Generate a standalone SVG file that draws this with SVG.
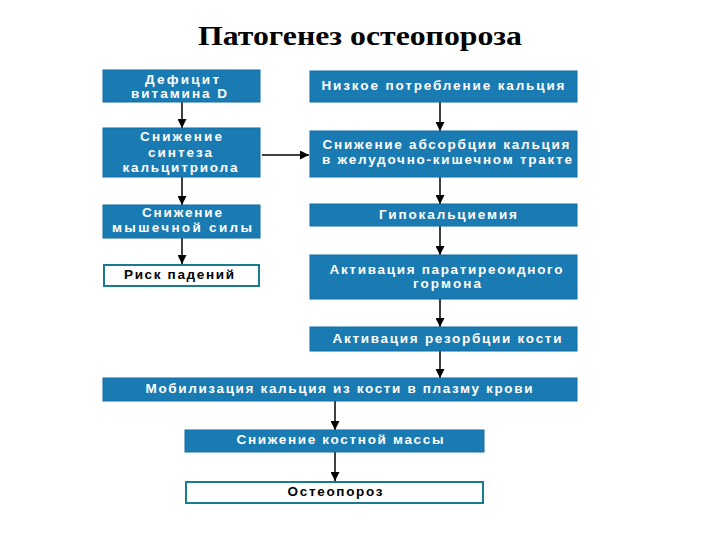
<svg xmlns="http://www.w3.org/2000/svg" width="720" height="540" viewBox="0 0 720 540">
<style>
.b{fill:#1a7bb2;stroke:#0f6ea5;stroke-width:1}
.w{fill:#fff;stroke:#1a7b90;stroke-width:2}
.t{font-family:"Liberation Sans",Arial,sans-serif;font-weight:bold;font-size:13.5px;fill:#fff;text-anchor:middle}
.k{fill:#000}
.c line{stroke:#000;stroke-width:1.5}
</style>
<defs>
<marker id="a" viewBox="0 0 10 10" refX="10" refY="5" markerWidth="7" markerHeight="6" markerUnits="strokeWidth" orient="auto"><path d="M0,0L10,5L0,10z" fill="#000"/></marker>
</defs>
<rect width="720" height="540" fill="#fff"/>
<text x="360" y="45" text-anchor="middle" font-family="'Liberation Serif','Times New Roman',serif" font-weight="bold" font-size="28" textLength="324" lengthAdjust="spacingAndGlyphs">Патогенез остеопороза</text>
<g class="c">
<line x1="182" y1="102" x2="182" y2="128" marker-end="url(#a)"/>
<line x1="182" y1="177" x2="182" y2="205" marker-end="url(#a)"/>
<line x1="182" y1="238" x2="182" y2="264" marker-end="url(#a)"/>
<line x1="262" y1="155" x2="309" y2="155" marker-end="url(#a)"/>
<line x1="440" y1="102" x2="440" y2="131" marker-end="url(#a)"/>
<line x1="440" y1="177" x2="440" y2="204" marker-end="url(#a)"/>
<line x1="440" y1="226" x2="440" y2="255" marker-end="url(#a)"/>
<line x1="440" y1="299" x2="440" y2="327" marker-end="url(#a)"/>
<line x1="440" y1="351" x2="440" y2="378" marker-end="url(#a)"/>
<line x1="335" y1="401" x2="335" y2="430" marker-end="url(#a)"/>
<line x1="335" y1="452" x2="335" y2="481" marker-end="url(#a)"/>
</g>
<g id="n1"><rect class="b" x="103" y="70" width="157" height="32"/><text class="t" x="182" y="84" textLength="74" lengthAdjust="spacing">Дефицит</text><text class="t" x="179" y="98" textLength="96" lengthAdjust="spacing">витамина D</text></g>
<g id="n2"><rect class="b" x="103" y="128" width="157" height="49"/><text class="t" x="181" y="141" textLength="82" lengthAdjust="spacing">Снижение</text><text class="t" x="180" y="157" textLength="64" lengthAdjust="spacing">синтеза</text><text class="t" x="180" y="172" textLength="115" lengthAdjust="spacing">кальцитриола</text></g>
<g id="n3"><rect class="b" x="103" y="205" width="157" height="33"/><text class="t" x="182" y="217" textLength="80" lengthAdjust="spacing">Снижение</text><text class="t" x="182" y="232" textLength="140" lengthAdjust="spacing">мышечной силы</text></g>
<g id="n4"><rect class="w" x="104" y="265" width="155" height="21"/><text class="t k" x="179" y="279" textLength="110" lengthAdjust="spacing">Риск падений</text></g>
<g id="n5"><rect class="b" x="310" y="71" width="267" height="31"/><text class="t" x="443" y="90" textLength="243" lengthAdjust="spacing">Низкое потребление  кальция</text></g>
<g id="n6"><rect class="b" x="310" y="131" width="267" height="46"/><text class="t" x="446" y="149" textLength="247" lengthAdjust="spacing">Снижение абсорбции кальция</text><text class="t" x="447" y="164" textLength="250" lengthAdjust="spacing">в желудочно-кишечном тракте</text></g>
<g id="n7"><rect class="b" x="310" y="204" width="267" height="22"/><text class="t" x="448" y="219" textLength="138" lengthAdjust="spacing">Гипокальциемия</text></g>
<g id="n8"><rect class="b" x="310" y="255" width="267" height="44"/><text class="t" x="446" y="274" textLength="233" lengthAdjust="spacing">Активация паратиреоидного</text><text class="t" x="447" y="288" textLength="68" lengthAdjust="spacing">гормона</text></g>
<g id="n9"><rect class="b" x="310" y="327" width="267" height="24"/><text class="t" x="447" y="343" textLength="229" lengthAdjust="spacing">Активация резорбции кости</text></g>
<g id="n10"><rect class="b" x="103" y="378" width="474" height="23"/><text class="t" x="339" y="393" textLength="387" lengthAdjust="spacing">Мобилизация кальция из кости в плазму крови</text></g>
<g id="n11"><rect class="b" x="185" y="430" width="299" height="22"/><text class="t" x="340" y="444" textLength="207" lengthAdjust="spacing">Снижение костной массы</text></g>
<g id="n12"><rect class="w" x="186" y="482" width="297" height="21"/><text class="t k" x="335" y="496" textLength="95" lengthAdjust="spacing">Остеопороз</text></g>
</svg>
